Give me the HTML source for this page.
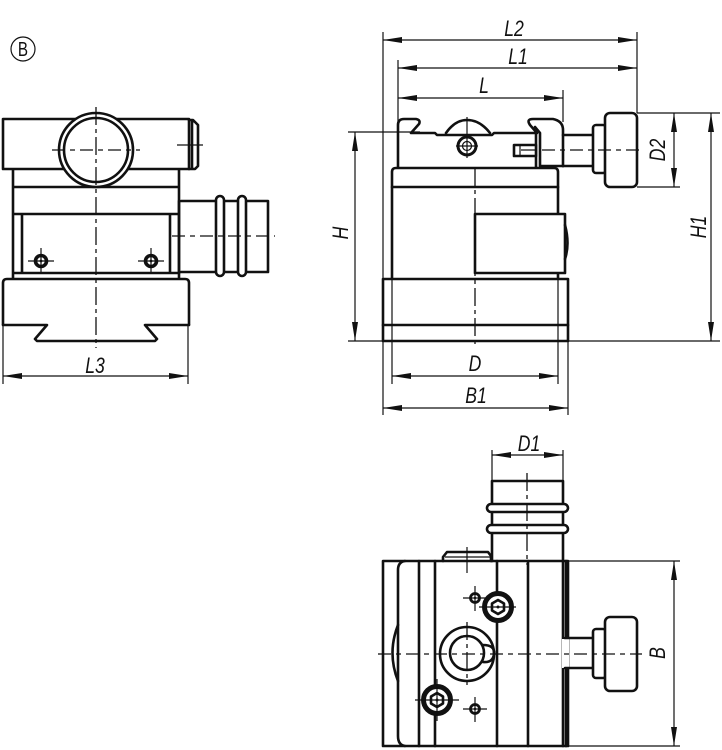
<!DOCTYPE html>
<html><head><meta charset="utf-8"><style>
html,body{margin:0;padding:0;background:#fff}
svg{display:block}
text{font-family:"Liberation Sans",sans-serif;font-style:italic;font-size:22px;fill:#111;text-anchor:middle}
.o{fill:none;stroke:#111;stroke-width:2.6;stroke-linejoin:round;stroke-linecap:round}
.w{fill:#fff;stroke:#111;stroke-width:2.6;stroke-linejoin:round}
.t{fill:none;stroke:#111;stroke-width:1.2}
.c{fill:none;stroke:#111;stroke-width:1.3;stroke-dasharray:18 4 4 4}
.h{fill:none;stroke:#111;stroke-width:1.3;stroke-dasharray:13 5 5 5}
.a{fill:#111}
</style></head><body>
<svg width="722" height="750" viewBox="0 0 722 750" xmlns="http://www.w3.org/2000/svg">
<!-- B mark -->
<circle cx="23" cy="49" r="12" class="t"/>
<text transform="translate(23 56) scale(.76 1)" style="font-style:normal;font-size:20px">B</text>

<!-- LEFT VIEW -->
<path class="o" d="M13 169V279M179 169V279M13 187H179M13 214H179M22 214V273M170 214V273M13 273H179"/>
<path class="w" d="M3 119H189V169H3Z"/>
<path class="o" d="M189 120H193L198 125V166L195 169H189M192 120V168"/>
<circle class="w" cx="96" cy="150" r="37"/><circle class="o" cx="96" cy="150" r="32"/>
<path class="w" d="M3 325V283Q3 279 7 279H185Q189 279 189 283V325"/>
<path class="o" d="M3 325H47L35 339L37 341H155L157 339L145 325H189"/>
<path class="o" d="M181 201H268V272H181M179 201V273"/>
<rect class="w" x="216" y="196" width="8" height="80" rx="4"/>
<rect class="w" x="238" y="196" width="8" height="80" rx="4"/>
<circle cx="41" cy="261" r="5.5" fill="#fff" stroke="#111" stroke-width="3.6"/>
<circle cx="151" cy="261" r="5.5" fill="#fff" stroke="#111" stroke-width="3.6"/>
<circle cx="41" cy="261" r="1.4" class="a"/><circle cx="151" cy="261" r="1.4" class="a"/>
<path class="t" d="M28 261H54M41 248V274M138 261H164M151 248V274"/>
<path class="c" d="M96 107V348"/>
<path class="h" d="M52 150H140"/>
<path class="t" d="M177 145H203M192 136V168"/>
<path class="h" d="M172 236H275"/>
<path class="t" d="M3 325V384M188 325V384M3 376H188"/>
<path class="a" d="M3 376L22 373V379ZM188 376L169 373V379Z"/>
<text transform="translate(95 373) scale(.8 1)">L3</text>

<!-- FRONT VIEW -->
<path class="t" d="M383 32V415M398 60V122M637 32V113M563 90V122M392 341V384M558 341V384M568 341V415"/>
<path class="t" d="M383 40H637M398 68H637M398 98H563M392 376H558M383 408H568"/>
<path class="a" d="M383 40L402 37V43ZM637 40L618 37V43ZM398 68L417 65V71ZM637 68L618 65V71ZM398 98L417 95V101ZM563 98L544 95V101ZM392 376L411 373V379ZM558 376L539 373V379ZM383 408L402 405V411ZM568 408L549 405V411Z"/>
<text transform="translate(514 36) scale(.8 1)">L2</text>
<text transform="translate(518 64) scale(.8 1)">L1</text>
<text transform="translate(484 93) scale(.8 1)">L</text>
<text transform="translate(475 371) scale(.8 1)">D</text>
<text transform="translate(476 403) scale(.8 1)">B1</text>

<path class="o" d="M398 168V125Q398 119 404 119H416Q421 120 419 124L411 133H435L437 135H492L494 133H537L530 125Q526 119 533 119H553Q563 121 563 130V166"/>
<path class="o" d="M446 133Q455 120 467 120Q480 120 490 133M535 127L540 133V166H563"/>
<path class="o" d="M536 133V168" stroke-width="1.8"/>
<rect class="w" x="514" y="145" width="22" height="11" stroke-width="2"/>
<path class="t" d="M520 145V156M521 150H537"/>
<circle cx="467" cy="146" r="9" fill="#fff" stroke="#111" stroke-width="3"/>
<circle cx="467" cy="146" r="4.5" class="t"/>
<path class="t" d="M456 146H478M467 117V158"/>
<path class="o" d="M563 135H593M563 166H593"/>
<rect class="w" x="593" y="125" width="13" height="48" rx="3"/>
<rect class="w" x="605" y="113" width="32" height="74" rx="5"/>
<path class="w" d="M392 279V172Q392 168 396 168H554Q558 168 558 172V214"/>
<path class="o" d="M392 187H558"/>
<path class="o" d="M558 273V279"/>
<rect class="w" x="475" y="214" width="90" height="59"/>
<path class="o" d="M565 225Q570 244 565 259" stroke-width="2"/>
<rect class="w" x="383" y="279" width="185" height="62"/>
<path class="o" d="M383 325H568" stroke-width="2.2"/>
<path class="t" d="M392 279V341M558 279V341"/>
<path class="c" d="M475 168V348" />
<path class="h" d="M542 150H642"/>
<path class="t" d="M348 132H420M348 341H720M637 113H680M637 187H680M637 113H720"/>
<path class="t" d="M355 132V341M674 113V187M711 113V341"/>
<path class="a" d="M355 132L352 151H358ZM355 341L352 322H358ZM674 113L671 132H677ZM674 187L671 168H677ZM711 113L708 132H714ZM711 341L708 322H714Z"/>
<text transform="translate(348 233) rotate(-90) scale(.8 1)">H</text>
<text transform="translate(665 150) rotate(-90) scale(.8 1)">D2</text>
<text transform="translate(706 227) rotate(-90) scale(.8 1)">H1</text>

<!-- BOTTOM VIEW -->
<path class="t" d="M492 450V481M563 450V481M492 455H563"/>
<path class="a" d="M492 455L511 452V458ZM563 455L544 452V458Z"/>
<text transform="translate(529 451) scale(.8 1)">D1</text>
<path class="o" d="M492 481H563M492 481V561M563 481V561"/>
<rect class="w" x="487" y="504" width="81" height="8" rx="4"/>
<rect class="w" x="487" y="525" width="81" height="8" rx="4"/>
<path class="o" d="M443 561V557L447 552H488L491 556V561"/>
<path class="t" d="M445 557H490"/>
<path class="o" d="M383 561H568V746H383Z"/>
<path class="o" d="M405 561Q398 562 398 570V736Q398 745 405 746"/>
<path class="o" d="M419 561V746M435 561V746M497 561V746M528 561V746M563 561V746"/>
<path class="o" d="M566 561V746" stroke-width="3"/>
<path class="o" d="M398 625Q387 653 398 681"/>
<circle class="w" cx="467" cy="654" r="27"/>
<path class="o" d="M483 645Q495 645 494 654Q493 663 483 662"/>
<circle class="w" cx="467" cy="653" r="17"/>
<rect fill="#fff" x="562" y="639" width="7" height="29"/>
<path class="o" d="M565 638H593M565 668H593"/>
<rect class="w" x="593" y="629" width="13" height="49" rx="3"/>
<rect class="w" x="605" y="617" width="32" height="74" rx="5"/>
<circle cx="498" cy="607" r="13.5" fill="#fff" stroke="#111" stroke-width="5"/>
<path class="o" d="M498 600L504 603.500V610.500L498 614L492 610.500V603.500Z"/>
<circle cx="498" cy="607" r="1.5" class="a"/>
<circle cx="437" cy="700" r="13.500" fill="#fff" stroke="#111" stroke-width="5"/>
<path class="o" d="M437 693L443 696.500V703.500L437 707L431 703.500V696.500Z"/>
<circle cx="437" cy="700" r="1.500" class="a"/>
<circle cx="475" cy="598" r="4.500" fill="#fff" stroke="#111" stroke-width="2.800"/>
<circle cx="475" cy="709" r="4.500" fill="#fff" stroke="#111" stroke-width="2.800"/>
<circle cx="475" cy="598" r="1.200" class="a"/><circle cx="475" cy="709" r="1.200" class="a"/>
<path class="t" d="M463 598H487M475 586V611M463 709H487M475 697V722M479 607H516M415 700H459M437 679V721"/>
<path class="c" d="M527 473V565"/>
<path class="h" d="M378 654H642"/>
<path class="t" d="M467 547V573"/>
<path class="c" d="M467 622V685"/>
<path class="t" d="M568 561H680M568 746H680M674 561V746"/>
<path class="a" d="M674 561L671 580H677ZM674 746L671 727H677Z"/>
<text transform="translate(665 653) rotate(-90) scale(.8 1)">B</text>
</svg>
</body></html>
